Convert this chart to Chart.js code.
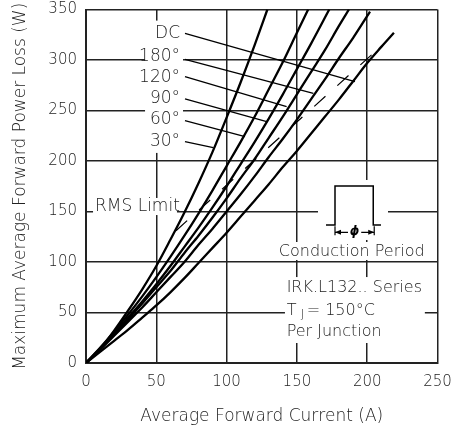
<!DOCTYPE html>
<html><head><meta charset="utf-8">
<script src="https://cdn.jsdelivr.net/npm/chart.js@4.4.1/dist/chart.umd.min.js"></script>
<style>html,body{margin:0;padding:0;background:#fff}canvas{display:block}</style>
</head><body>
<canvas id="c" width="455" height="430"></canvas>
<script>
// ---- data ----
const xTickValues = [0, 50, 100, 150, 200, 250];
const yTickValues = [0, 50, 100, 150, 200, 250, 300, 350];

const cur30 = [0,10,20,30,40,50,60,70,80,90,100,110,120,129];
const pow30 = [0,14,32,52,73,96,122,149,178,209,243,278,315,350];

const cur60 = [0,10,20,30,40,50,60,70,80,90,100,110,120,130,140,150,158];
const pow60 = [0,15,31,48,66,85,105,126,148,171,195,219,244,271,298,327,350];

const cur90 = [0,10,20,30,40,50,60,70,80,90,100,110,120,130,140,150,160,173];
const pow90 = [0,14,29,45,61,78,96,115,134,154,175,197,219,242,266,291,316,350];

const cur120 = [0,10,20,30,40,50,60,70,80,90,100,110,120,130,140,150,160,170,180,187];
const pow120 = [0,14,28,43,59,75,91,109,126,144,163,183,202,223,244,266,288,310,334,350];

const cur180 = [0,10,20,30,40,50,60,70,80,90,100,110,120,130,140,150,160,170,180,190,202];
const pow180 = [0,13,27,41,55,70,85,100,117,133,150,167,185,204,222,241,261,281,302,322,348];

const curDC = [0,10,20,30,40,50,60,70,80,90,100,110,120,130,140,150,160,170,180,190,200,210,219];
const powDC = [0,11,22,33,45,57,70,84,99,114,129,145,161,177,194,210,227,244,261,279,297,313,327];

const rmsCur = [64, 207];
const rmsPow = [131, 310];

const curveLabels = ['DC', '180°', '120°', '90°', '60°', '30°'];
const labelPow = [326.4, 303.3, 282.9, 262.1, 240.6, 219.1];
const leaderStartCur = 70.4;
const leaderStartPow = [326.4, 300.7, 283.5, 261.4, 239.9, 219.1];
const leaderEndCur = [191.3, 161.7, 142.7, 128.5, 113.1, 90.5];
const leaderEndPow = [278.5, 267.0, 253.8, 238.9, 224.1, 213.2];

// layout constants (data units) for annotation blocks
const masks = [
  [42, 69, 339, 208],
  [5, 64.7, 163.4, 146.5],
  [165, 214.8, 181.2, 121.8],
  [136.6, 241.8, 119.8, 102],
  [141.5, 241, 85.1, 19.8]
];
const pulseCur = [170.7,177.1,177.1,204.3,204.3,209.8];
const pulsePow = [136.6,136.6,175.2,175.2,136.6,136.6];

const FONT = '"DejaVu Sans", sans-serif';
const W = '200';
const TXT = '#222';

function pts(xs, ys){ return xs.map((v,i)=>({x:v, y:ys[i]})); }
function curve(xs, ys){
  return {data: pts(xs, ys), borderColor:'#000', borderWidth:2.3, pointRadius:0,
          fill:false, cubicInterpolationMode:'monotone', order:1};
}
const datasets = [];
curveLabels.forEach((n,i)=>{
  datasets.push({data:[{x:leaderStartCur,y:leaderStartPow[i]},{x:leaderEndCur[i],y:leaderEndPow[i]}],
    borderColor:'#000', borderWidth:1.3, pointRadius:0, fill:false, order:3});
});
datasets.push({data: pts(rmsCur, rmsPow), borderColor:'#000', borderWidth:1.2, borderDash:[15,16],
  pointRadius:0, fill:false, order:2});
datasets.push(curve(cur30,pow30), curve(cur60,pow60), curve(cur90,pow90),
              curve(cur120,pow120), curve(cur180,pow180), curve(curDC,powDC));

const deco = {
  id:'deco',
  beforeDatasetsDraw(ch){
    const {ctx, scales:{x,y}} = ch;
    ctx.save(); ctx.fillStyle = '#fff';
    masks.forEach(m=>{
      const x1=x.getPixelForValue(m[0]), x2=x.getPixelForValue(m[1]);
      const y1=y.getPixelForValue(m[2]), y2=y.getPixelForValue(m[3]);
      ctx.fillRect(Math.min(x1,x2), Math.min(y1,y2), Math.abs(x2-x1), Math.abs(y2-y1));
    });
    ctx.restore();
  },
  afterDatasetsDraw(ch){
    const {ctx, scales:{x,y}} = ch;
    const X = v=>x.getPixelForValue(v), Y = v=>y.getPixelForValue(v);
    ctx.save();
    ctx.fillStyle = TXT;
    ctx.textBaseline = 'middle';
    ctx.font = W + ' 17px ' + FONT;
    ctx.textAlign = 'right';
    curveLabels.forEach((t,i)=> ctx.fillText(t, X(66.9), Y(labelPow[i])));
    ctx.textAlign = 'left';
    ctx.fillText('RMS Limit', X(6.4), Y(154.8));
    ctx.font = W + ' 16px ' + FONT;
    ctx.textAlign = 'center';
    ctx.fillText('Conduction Period', X(189), Y(110.2));
    ctx.textAlign = 'left';
    ctx.fillText('IRK.L132.. Series', X(142.7), Y(74));
    let tx = X(142.7);
    ctx.fillText('T', tx, Y(51.8));
    ctx.font = W + ' 12px ' + FONT;
    ctx.fillText('J', tx + 14, Y(51.8) + 4);
    ctx.font = W + ' 16px ' + FONT;
    ctx.fillText('= 150°C', tx + 20, Y(51.8));
    ctx.fillText('Per Junction', X(142.7), Y(31));
    // conduction waveform
    ctx.strokeStyle = '#000'; ctx.lineWidth = 1.5;
    ctx.beginPath();
    pulseCur.forEach((c,i)=>{ const px=X(c), py=Y(pulsePow[i]); if(i===0) ctx.moveTo(px,py); else ctx.lineTo(px,py); });
    ctx.stroke();
    const xa = X(177.1), xb = X(205.0), ya = Y(129.4);
    ctx.lineWidth = 1.2;
    ctx.beginPath();
    ctx.moveTo(xa, Y(135.5)); ctx.lineTo(xa, Y(126.5));
    ctx.moveTo(xb, Y(135.5)); ctx.lineTo(xb, Y(126.5));
    ctx.moveTo(xa, ya); ctx.lineTo(xa+13, ya);
    ctx.moveTo(xb-13, ya); ctx.lineTo(xb, ya);
    ctx.stroke();
    ctx.fillStyle = '#000';
    ctx.beginPath(); ctx.moveTo(xa, ya); ctx.lineTo(xa+6, ya-2.5); ctx.lineTo(xa+6, ya+2.5); ctx.closePath(); ctx.fill();
    ctx.beginPath(); ctx.moveTo(xb, ya); ctx.lineTo(xb-6, ya-2.5); ctx.lineTo(xb-6, ya+2.5); ctx.closePath(); ctx.fill();
    ctx.font = 'italic bold 12px ' + FONT;
    ctx.textAlign = 'center';
    ctx.fillText('ϕ', (xa+xb)/2, ya);
    ctx.restore();
  }
};

function zeroPad(s){ s.paddingLeft = 0; s.paddingRight = 0; s.paddingTop = 0; s.paddingBottom = 0; }

new Chart(document.getElementById('c'), {
  type: 'line',
  data: {datasets},
  plugins: [deco],
  options: {
    responsive: false, animation: false,
    layout: {padding: {top: 9.5, right: 17.5, left: 0, bottom: 0}},
    plugins: {legend: {display:false}, tooltip: {enabled:false}},
    scales: {
      x: {
        type: 'linear', min: 0, max: 250,
        afterBuildTicks: s => { s.ticks = xTickValues.map(v=>({value:v})); },
        afterFit: s => { s.height = 67; zeroPad(s); },
        grid: {color:'#222', lineWidth:1.5, drawTicks:false},
        border: {color:'#222', width:2},
        ticks: {padding: 10, color: TXT, font: {family: FONT, size: 15, weight: W}, maxRotation:0},
        title: {display:true, text:'Average Forward Current (A)', color: TXT,
                font:{family: FONT, size:17, weight: W}, padding:{top:0, bottom:3}}
      },
      y: {
        type: 'linear', min: 0, max: 350,
        afterBuildTicks: s => { s.ticks = yTickValues.map(v=>({value:v})); },
        afterFit: s => { s.width = 86; zeroPad(s); },
        grid: {color:'#222', lineWidth:1.5, drawTicks:false},
        border: {color:'#222', width:2},
        ticks: {padding: 9, color: TXT, font: {family: FONT, size: 15, weight: W}},
        title: {display:true, text:'Maximum Average Forward Power Loss (W)', color: TXT,
                font:{family: FONT, size:17, weight: W}, padding:{top:10, bottom:0}}
      }
    }
  }
});
</script>
</body></html>
